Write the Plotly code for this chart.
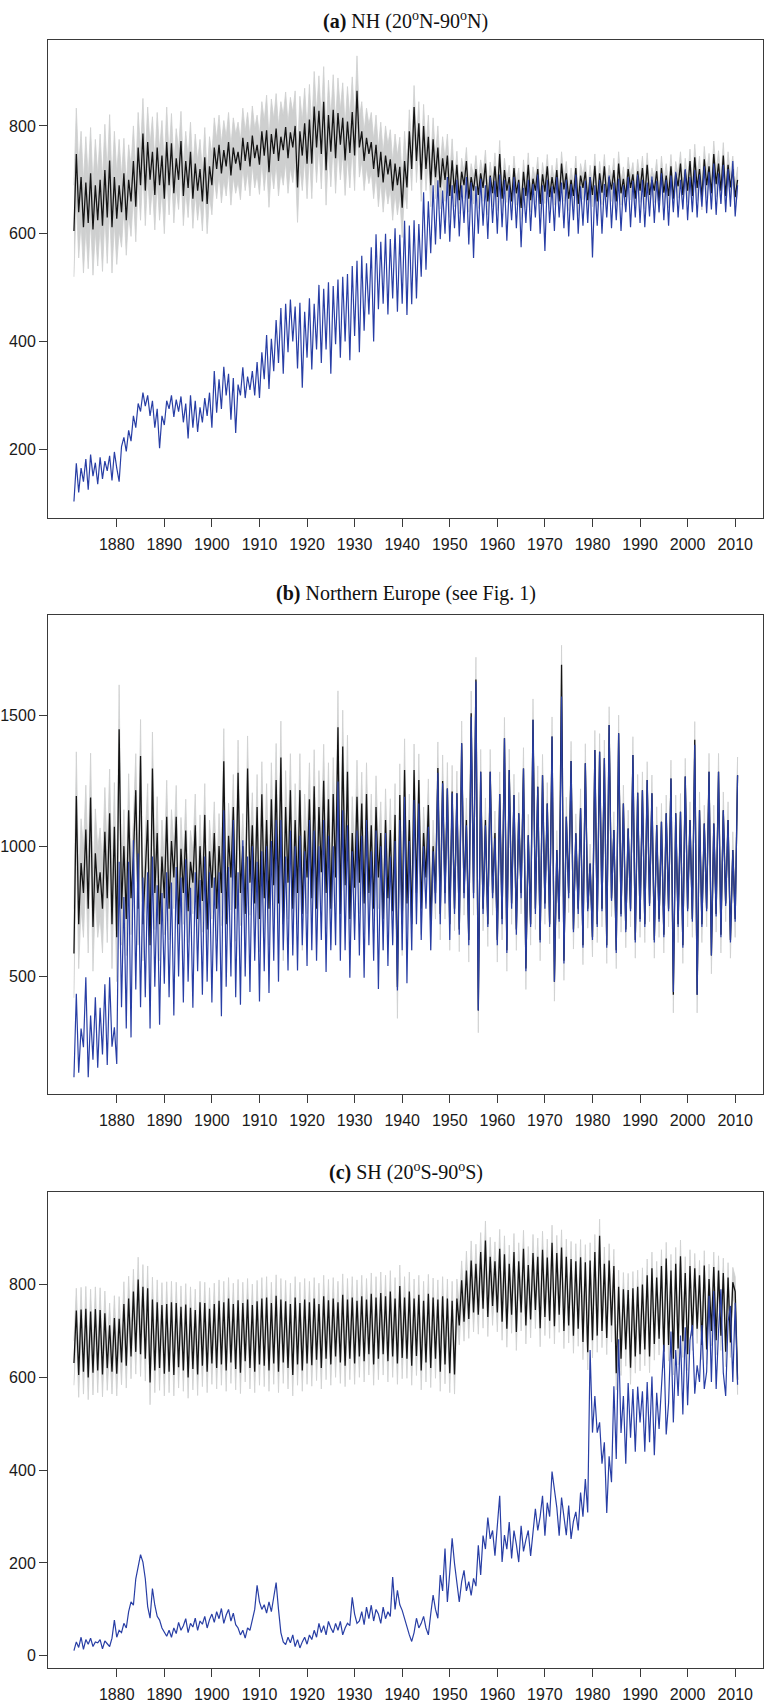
import plotly.graph_objects as go

# ---------------------------------------------------------------------------
# Seasonal series, two values per year starting 1871.0 (step 0.5 yr).
# Each row below holds one decade (20 values).
# ---------------------------------------------------------------------------
START_YEAR = 1871.0
STEP = 0.5

# (a) NH (20N-90N)
nh_mean = [
    605, 748, 640, 705, 612, 695, 620, 712, 608, 690, 625, 700, 615, 718, 630, 736, 612, 705, 628, 690,
    640, 712, 625, 700, 660, 735, 650, 760, 690, 786, 680, 770, 700, 752, 672, 760, 690, 745, 665, 770,
    690, 768, 675, 740, 700, 772, 670, 735, 685, 752, 665, 730, 680, 720, 660, 742, 655, 725, 690, 760,
    720, 765, 712, 755, 725, 770, 708, 760, 730, 752, 718, 778, 735, 770, 725, 782, 740, 765, 728, 790,
    745, 792, 714, 785, 748, 795, 735, 780, 755, 798, 740, 788, 760, 800, 686, 790, 745, 805, 730, 812,
    730, 836, 760, 828, 748, 845, 718, 820, 752, 830, 740, 824, 765, 815, 736, 808, 750, 826, 745, 865,
    760, 790, 735, 778, 748, 770, 720, 765, 705, 752, 695, 745, 710, 738, 680, 730, 690, 724, 648, 735,
    686, 790, 720, 835, 735, 805, 700, 800, 720, 780, 690, 775, 705, 760, 686, 740, 700, 745, 670, 736,
    675, 728, 662, 715, 690, 735, 665, 705, 680, 720, 672, 712, 685, 730, 660, 708, 675, 725, 668, 748,
    665, 718, 680, 705, 660, 722, 675, 700, 648, 715, 670, 728, 662, 702, 680, 720, 655, 710, 678, 725,
    668, 705, 675, 718, 660, 730, 682, 712, 665, 700, 670, 722, 655, 708, 685, 715, 662, 705, 672, 726,
    660, 712, 676, 725, 668, 705, 682, 718, 660, 730, 675, 702, 668, 720, 685, 710, 665, 716, 680, 722,
    668, 728, 672, 700, 680, 716, 660, 722, 676, 708, 670, 725, 665, 712, 688, 730, 672, 718, 680, 735,
    670, 742, 685, 720, 668, 738, 690, 725, 675, 748, 692, 730, 680, 745, 670, 728, 686, 720, 668, 700,
]
nh_obs = [
    103, 174, 120, 165, 140, 182, 125, 190, 150, 175, 135, 185, 145, 178, 160, 188, 142, 195, 165, 140,
    205, 222, 196, 235, 215, 262, 240, 285, 270, 305, 280, 300, 262, 290, 240, 275, 202, 262, 245, 290,
    275, 300, 260, 292, 270, 298, 250, 285, 220, 300, 240, 290, 232, 278, 250, 295, 262, 305, 240, 345,
    268, 330, 275, 353, 300, 340, 255, 332, 230, 320, 300, 352, 295, 335, 310, 345, 300, 362, 295, 380,
    330, 412, 312, 405, 345, 440, 360, 462, 340, 470, 380, 478, 400, 465, 350, 472, 314, 455, 370, 480,
    348, 470, 385, 505, 360, 498, 385, 510, 340, 503, 395, 515, 370, 520, 400, 525, 365, 540, 410, 550,
    380, 559, 420, 545, 450, 575, 400, 599, 460, 585, 470, 600, 450, 590, 480, 610, 455, 598, 470, 624,
    449, 615, 469, 625, 480, 618, 520, 677, 533, 660, 564, 690, 580, 699, 590, 680, 600, 705, 585, 690,
    610, 700, 595, 690, 620, 705, 580, 695, 555, 688, 600, 702, 615, 690, 590, 705, 620, 698, 600, 710,
    612, 700, 587, 690, 625, 705, 610, 695, 575, 685, 620, 700, 605, 692, 630, 710, 600, 690, 568, 700,
    620, 688, 605, 705, 630, 695, 610, 700, 595, 692, 625, 710, 600, 688, 615, 698, 620, 705, 556, 690,
    615, 700, 600, 692, 630, 708, 610, 695, 625, 702, 605, 690, 640, 705, 612, 698, 630, 710, 620, 700,
    612, 695, 632, 706, 620, 698, 640, 712, 625, 700, 615, 708, 640, 715, 630, 700, 645, 720, 625, 705,
    640, 718, 630, 710, 650, 725, 638, 715, 645, 730, 635, 712, 655, 728, 640, 720, 650, 735, 632, 690,
]
nh_spread = [85, 65, 55, 55, 65, 65, 55, 40, 25, 22, 22, 22, 22, 24]   # per decade

# (b) Northern Europe
ne_mean = [
    588, 1192, 700, 935, 820, 1064, 760, 1187, 690, 973, 820, 900, 760, 1055, 800, 1126, 700, 1074, 650, 1449,
    760, 1000, 720, 1138, 800, 960, 1215, 760, 1346, 700, 900, 1100, 620, 1298, 820, 1050, 700, 960, 800, 1113,
    760, 1020, 880, 1113, 700, 990, 820, 1060, 750, 940, 860, 1080, 720, 1000, 790, 1120, 680, 980, 840, 1050,
    760, 1000, 820, 1326, 700, 1040, 880, 1150, 760, 1282, 820, 1000, 740, 1298, 860, 1080, 780, 1150, 720, 1199,
    800, 1100, 760, 1180, 850, 1254, 780, 1340, 700, 1150, 860, 1215, 760, 1100, 820, 1215, 740, 1060, 880, 1180,
    800, 1230, 760, 1150, 900, 1251, 820, 1180, 760, 1200, 880, 1456, 740, 1382, 850, 1286, 720, 1050, 840, 1190,
    860, 1164, 780, 1200, 820, 1080, 760, 1150, 880, 1050, 720, 1100, 800, 1062, 750, 1120, 459, 1196, 700, 1292,
    780, 1100, 700, 1292, 820, 1254, 760, 1050, 880, 1158, 700, 1000, 820, 1300, 740, 1250, 820, 1221, 700, 1210,
    760, 1203, 680, 1395, 820, 1100, 640, 1510, 820, 1640, 369, 1286, 760, 1100, 700, 1286, 820, 1050, 640, 1200,
    720, 1414, 600, 1292, 780, 1196, 680, 1126, 820, 1298, 530, 1042, 700, 1485, 760, 1228, 640, 1272, 780, 1164,
    700, 1421, 480, 985, 720, 1696, 560, 1113, 820, 1327, 680, 1049, 760, 1145, 620, 1318, 760, 933, 650, 1369,
    700, 1362, 760, 1337, 620, 1465, 800, 1062, 600, 1433, 740, 1164, 680, 1068, 760, 1350, 640, 1205, 720, 1215,
    700, 1254, 780, 1203, 640, 1081, 720, 1094, 660, 1126, 760, 1260, 430, 1126, 700, 1132, 620, 1267, 760, 1100,
    720, 1408, 430, 1138, 700, 1087, 760, 1286, 580, 1087, 740, 1286, 660, 1138, 780, 1100, 640, 985, 720, 1272,
]
ne_obs = [
    113, 433, 130, 300, 228, 497, 113, 350, 180, 420, 150, 380, 200, 470, 160, 497, 230, 305, 164, 940,
    382, 805, 300, 940, 266, 1023, 450, 972, 382, 880, 420, 900, 300, 960, 460, 850, 315, 820, 472, 900,
    420, 860, 350, 920, 500, 880, 400, 950, 480, 840, 380, 900, 520, 870, 430, 960, 480, 900, 400, 880,
    520, 900, 347, 1138, 460, 920, 500, 1100, 420, 900, 391, 1023, 500, 960, 440, 1000, 560, 940, 404, 980,
    520, 1000, 436, 1020, 560, 1100, 480, 1100, 600, 960, 523, 1060, 580, 1000, 523, 1040, 620, 980, 540, 1100,
    600, 1060, 560, 1000, 640, 1100, 517, 1040, 600, 1000, 620, 1248, 560, 1138, 600, 1080, 495, 980, 640, 1060,
    580, 1040, 495, 1100, 620, 980, 560, 1060, 452, 1000, 600, 1050, 540, 960, 620, 1020, 446, 1100, 600, 1190,
    474, 1020, 600, 1177, 700, 1164, 640, 1000, 760, 1074, 600, 980, 780, 1282, 700, 1241, 780, 1221, 640, 1203,
    740, 1203, 660, 1395, 800, 1080, 620, 1497, 800, 1632, 369, 1286, 740, 1080, 690, 1286, 800, 1030, 620, 1200,
    700, 1414, 590, 1292, 760, 1196, 660, 1126, 800, 1298, 520, 1042, 690, 1485, 740, 1228, 630, 1272, 760, 1164,
    690, 1421, 480, 985, 710, 1574, 550, 1113, 800, 1327, 670, 1049, 740, 1145, 610, 1318, 750, 933, 640, 1369,
    690, 1362, 750, 1337, 610, 1465, 790, 1062, 590, 1433, 730, 1164, 670, 1068, 750, 1350, 630, 1205, 710, 1215,
    690, 1254, 770, 1203, 630, 1081, 710, 1094, 650, 1126, 750, 1260, 440, 1126, 690, 1132, 610, 1267, 750, 1100,
    710, 1389, 430, 1138, 690, 1087, 750, 1286, 580, 1087, 730, 1286, 650, 1138, 770, 1100, 630, 985, 710, 1272,
]
ne_spread = [170, 140, 120, 125, 140, 140, 120, 100, 85, 80, 75, 70, 70, 70]

# (c) SH (20S-90S)
sh_mean = [
    631, 744, 605, 746, 612, 748, 600, 742, 610, 747, 615, 745, 606, 738, 620, 712, 612, 728, 608, 726,
    632, 758, 625, 770, 645, 785, 655, 811, 650, 795, 640, 792, 589, 768, 615, 762, 620, 756, 608, 758,
    612, 762, 605, 760, 622, 752, 615, 757, 600, 750, 618, 745, 606, 762, 625, 760, 612, 748, 630, 758,
    620, 765, 628, 762, 615, 770, 632, 758, 618, 766, 610, 760, 635, 768, 620, 756, 612, 764, 628, 770,
    625, 772, 615, 760, 630, 776, 612, 768, 632, 764, 620, 758, 605, 772, 628, 760, 615, 768, 630, 762,
    626, 770, 638, 758, 620, 775, 640, 766, 628, 770, 645, 762, 632, 778, 625, 768, 640, 772, 630, 765,
    645, 775, 635, 768, 650, 780, 628, 772, 640, 782, 650, 775, 635, 785, 645, 770, 630, 797, 642, 772,
    640, 785, 625, 770, 646, 778, 615, 765, 632, 780, 620, 772, 640, 768, 612, 775, 628, 770, 609, 765,
    606, 770, 712, 809, 720, 830, 726, 852, 740, 845, 735, 870, 748, 895, 730, 860, 754, 850, 740, 877,
    720, 865, 705, 845, 735, 870, 698, 850, 740, 877, 712, 842, 725, 868, 745, 860, 706, 875, 730, 858,
    722, 890, 710, 868, 735, 880, 700, 860, 712, 855, 690, 850, 705, 859, 676, 848, 654, 852, 680, 870,
    690, 905, 700, 845, 685, 852, 712, 840, 609, 795, 640, 790, 660, 788, 621, 792, 645, 795, 650, 800,
    660, 820, 645, 835, 672, 815, 683, 840, 655, 856, 670, 830, 640, 845, 662, 861, 678, 825, 650, 840,
    690, 835, 705, 820, 670, 841, 660, 812, 700, 838, 680, 830, 690, 825, 655, 815, 675, 805, 785, 595,
]
sh_obs = [
    11, 30, 18, 40, 14, 35, 25, 38, 20, 30, 28, 35, 15, 32, 26, 20, 38, 77, 40, 55,
    50, 70, 60, 95, 116, 109, 166, 190, 218, 202, 166, 106, 81, 145, 109, 85, 77, 60, 50, 42,
    55, 40, 60, 48, 72, 55, 65, 80, 50, 70, 62, 81, 55, 75, 68, 85, 60, 78, 90, 72,
    95, 80, 102, 70, 88, 100, 75, 92, 67, 60, 45, 55, 38, 60, 55, 80, 100, 152, 116, 100,
    110, 92, 116, 95, 130, 158, 100, 50, 30, 24, 40, 28, 45, 20, 35, 17, 30, 40, 25, 45,
    35, 55, 40, 70, 50, 65, 45, 74, 60, 50, 70, 55, 74, 45, 60, 70, 65, 126, 90, 70,
    75, 95, 67, 105, 80, 109, 75, 100, 90, 70, 105, 80, 95, 85, 170, 100, 141, 110, 98, 80,
    60, 45, 31, 50, 81, 60, 70, 85, 60, 45, 90, 131, 100, 81, 174, 140, 231, 116, 180, 253,
    199, 150, 116, 160, 184, 140, 160, 130, 167, 150, 238, 174, 259, 230, 298, 252, 270, 216, 288, 345,
    202, 260, 230, 288, 210, 270, 240, 202, 280, 225, 250, 270, 215, 260, 317, 270, 300, 345, 259, 330,
    300, 397, 359, 320, 259, 341, 300, 260, 324, 252, 290, 310, 270, 352, 300, 381, 309, 659, 481, 560,
    481, 503, 414, 460, 308, 430, 374, 581, 424, 682, 480, 560, 414, 588, 470, 575, 440, 580, 503, 570,
    440, 590, 460, 602, 432, 567, 489, 595, 670, 477, 545, 699, 503, 659, 560, 690, 520, 708, 540, 680,
    713, 565, 626, 590, 713, 575, 612, 776, 590, 786, 575, 700, 790, 610, 560, 720, 754, 590, 761, 584,
]
sh_spread = [48, 48, 45, 45, 45, 45, 45, 42, 42, 40, 38, 36, 35, 32]

x_ticks = [1880, 1890, 1900, 1910, 1920, 1930, 1940, 1950, 1960, 1970, 1980, 1990, 2000, 2010]
nh_yticks = [200, 400, 600, 800]
ne_yticks = [500, 1000, 1500]
sh_yticks = [0, 200, 400, 600, 800]

titles = [
    "<b>(a)</b> NH (20<sup>o</sup>N-90<sup>o</sup>N)",
    "<b>(b)</b> Northern Europe (see Fig. 1)",
    "<b>(c)</b> SH (20<sup>o</sup>S-90<sup>o</sup>S)",
]

# ---------------------------------------------------------------------------
# Layout geometry (pixels)
# ---------------------------------------------------------------------------
W, H = 766, 1703
BOX_LEFT, BOX_RIGHT = 43.3, 763.0
panels = [
    # top, bottom, y-range, title centre
    dict(top=40.0, bottom=518.0, yr=[73, 959.5], title_y=21),
    dict(top=615.0, bottom=1094.3, yr=[50, 1888.6], title_y=594),
    dict(top=1193.0, bottom=1669.0, yr=[-26.3, 998.8], title_y=1172),
]
X_RANGE = [1865.55, 2015.85]

GRAY = "rgb(206,207,207)"
BLACK = "#141414"
BLUE = "rgb(40,62,165)"
AXIS_COLOR = "#3a3a3a"

series = [
    (nh_mean, nh_obs, nh_spread, nh_yticks),
    (ne_mean, ne_obs, ne_spread, ne_yticks),
    (sh_mean, sh_obs, sh_spread, sh_yticks),
]

fig = go.Figure()
layout_axes = {}

for k, ((mean, obs, spread, yticks), p) in enumerate(zip(series, panels), start=1):
    xa = "x" if k == 1 else f"x{k}"
    ya = "y" if k == 1 else f"y{k}"
    t = [START_YEAR + STEP * i for i in range(len(mean))]
    t_obs = [START_YEAR + STEP * i for i in range(len(obs))]

    # ensemble range shown as a grey band around the mean
    hi = [v + spread[min(i // 20, len(spread) - 1)] for i, v in enumerate(mean)]
    lo = [v - spread[min(i // 20, len(spread) - 1)] for i, v in enumerate(mean)]
    fig.add_trace(go.Scatter(
        x=t + t[::-1], y=hi + lo[::-1], fill="toself", fillcolor=GRAY,
        line=dict(color=GRAY, width=0.8), mode="lines", hoverinfo="skip",
        showlegend=False, xaxis=xa, yaxis=ya))
    fig.add_trace(go.Scatter(
        x=t, y=mean, mode="lines", line=dict(color=BLACK, width=1.3),
        showlegend=False, xaxis=xa, yaxis=ya))
    fig.add_trace(go.Scatter(
        x=t_obs, y=obs, mode="lines", line=dict(color=BLUE, width=1.2),
        showlegend=False, xaxis=xa, yaxis=ya))

    common = dict(showline=True, mirror=True, linecolor=AXIS_COLOR, linewidth=1,
                  ticks="outside", ticklen=8, tickcolor=AXIS_COLOR, tickwidth=1,
                  showgrid=False, zeroline=False,
                  tickfont=dict(family="Liberation Sans, Arial, sans-serif", size=16, color="#1a1a1a"))
    xkey = "xaxis" if k == 1 else f"xaxis{k}"
    ykey = "yaxis" if k == 1 else f"yaxis{k}"
    layout_axes[xkey] = dict(
        domain=[BOX_LEFT / W, BOX_RIGHT / W], range=X_RANGE, anchor=ya,
        tickvals=x_ticks, ticktext=[str(v) for v in x_ticks],
        ticklabelstandoff=4, **common)
    layout_axes[ykey] = dict(
        domain=[(H - p["bottom"]) / H, (H - p["top"]) / H], range=p["yr"], anchor=xa,
        tickvals=yticks, ticktext=[str(v) for v in yticks], **common)

annotations = []
for title, p in zip(titles, panels):
    annotations.append(dict(
        text=title, xref="paper", yref="paper",
        x=(BOX_LEFT + BOX_RIGHT) / 2 / W, y=(H - p["title_y"]) / H,
        xanchor="center", yanchor="middle", showarrow=False,
        font=dict(family="Liberation Serif, Times New Roman, serif", size=20, color="#111")))

fig.update_layout(
    width=W, height=H, margin=dict(l=0, r=0, t=0, b=0),
    paper_bgcolor="white", plot_bgcolor="white",
    annotations=annotations, **layout_axes)

fig.write_html("out.html")
